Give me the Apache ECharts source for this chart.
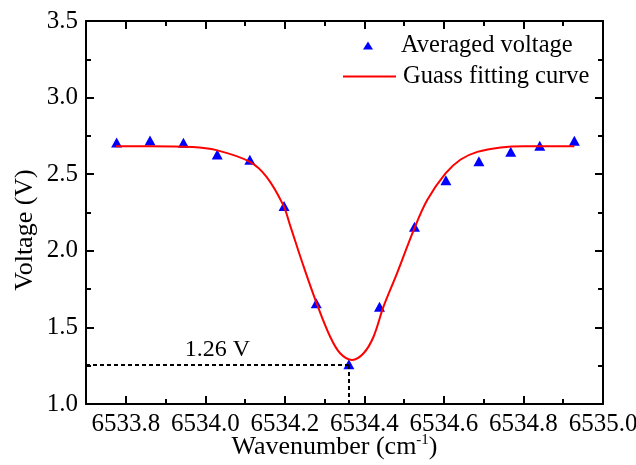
<!DOCTYPE html>
<html><head><meta charset="utf-8">
<script src="https://cdn.jsdelivr.net/npm/echarts@6/dist/echarts.min.js"></script>
<style>html,body{margin:0;padding:0;background:#fff}#c{width:636px;height:465px}</style>
</head><body><div id="c"></div>
<script>
// ---- data ----
const wavenumber = [6533.777, 6533.861, 6533.945, 6534.030, 6534.112, 6534.198, 6534.279, 6534.361, 6534.438, 6534.526, 6534.605, 6534.688, 6534.768, 6534.841, 6534.928];
const voltage    = [2.707, 2.720, 2.705, 2.629, 2.594, 2.292, 1.657, 1.259, 1.635, 2.157, 2.461, 2.585, 2.646, 2.685, 2.718];
const fitWavenumber = [6533.775, 6533.859, 6533.968, 6534.028, 6534.112, 6534.154, 6534.196, 6534.213, 6534.246, 6534.280, 6534.314, 6534.339, 6534.369, 6534.398, 6534.423, 6534.448, 6534.482, 6534.524, 6534.558, 6534.604, 6534.642, 6534.684, 6534.743, 6534.802, 6534.928];
const fitVoltage    = [2.682, 2.683, 2.678, 2.657, 2.581, 2.483, 2.298, 2.168, 1.907, 1.657, 1.439, 1.331, 1.287, 1.331, 1.439, 1.635, 1.853, 2.135, 2.331, 2.505, 2.596, 2.646, 2.675, 2.683, 2.683];
const xTickLabels  = [6533.8, 6534.0, 6534.2, 6534.4, 6534.6, 6534.8, 6535.0];
const xMinorTicks  = [6533.9, 6534.1, 6534.3, 6534.5, 6534.7, 6534.9];
const yTickLabels  = [1.0, 1.5, 2.0, 2.5, 3.0, 3.5];
const xMin = 6533.7, xMax = 6535.0;
const minLabel = '1.26 V';
const minIndex = 7;
const seriesNames = ['Averaged voltage', 'Guass fitting curve'];

// ---- chart ----
const FONT = "'Liberation Serif','Times New Roman',serif";
const chart = echarts.init(document.getElementById('c'), null, {renderer: 'canvas'});
const black = '#000';
function xAxis(pos, ticks, len, main) {
  return {
    type: 'value', position: pos, min: xMin, max: xMax,
    axisLine: {show: main, onZero: false, lineStyle: {color: black, width: 2}},
    axisTick: {show: true, inside: true, length: len, customValues: ticks, lineStyle: {color: black, width: 2}},
    axisLabel: {show: main && pos === 'bottom', customValues: ticks, formatter: v => v.toFixed(1),
      margin: 8, fontSize: 25, color: black, fontFamily: FONT},
    splitLine: {show: false}
  };
}
const xBottom = xAxis('bottom', xTickLabels, 8, true);
xBottom.name = '{t|Wavenumber (cm}{s|-1}{t|)}';
xBottom.nameLocation = 'middle';
xBottom.nameGap = 29;
xBottom.nameMoveOverlap = false;
xBottom.nameTextStyle = {padding: [0, 20, 0, 0], rich: {
  t: {fontSize: 26, fontFamily: FONT, color: black},
  s: {fontSize: 15, fontFamily: FONT, color: black, padding: [0, 0, 13, 0]}
}};
function yAxis(pos, main) {
  return {
    type: 'value', position: pos, min: yTickLabels[0], max: yTickLabels[yTickLabels.length - 1], interval: 0.5,
    axisLine: {show: true, onZero: false, lineStyle: {color: black, width: 2}},
    axisTick: {show: true, inside: true, length: 8, lineStyle: {color: black, width: 2}},
    minorTick: {show: true, splitNumber: 2, length: 5, lineStyle: {color: black, width: 2}},
    axisLabel: {show: main, formatter: v => v.toFixed(1), margin: 8, fontSize: 25, color: black, fontFamily: FONT},
    splitLine: {show: false}, minorSplitLine: {show: false}
  };
}
const yLeft = yAxis('left', true);
yLeft.name = 'Voltage (V)';
yLeft.nameLocation = 'middle';
yLeft.nameRotate = 90;
yLeft.nameGap = 48;
yLeft.nameMoveOverlap = false;
yLeft.nameTextStyle = {fontSize: 26, fontFamily: FONT, color: black, padding: [0, 35, 0, 0]};

const option = {
  backgroundColor: '#fff',
  animation: false,
  grid: {left: 86, top: 21, width: 517, height: 383, containLabel: false, outerBoundsMode: 'none'},
  xAxis: [xBottom, xAxis('bottom', xMinorTicks, 5, false), xAxis('top', xTickLabels, 8, true), xAxis('top', xMinorTicks, 5, false)],
  yAxis: [yLeft, yAxis('right', false)],
  legend: [
    {data: [seriesNames[0]], left: 363, top: 33, padding: 0, itemWidth: 10, itemHeight: 8,
     textStyle: {fontSize: 24.5, fontFamily: FONT, color: black, padding: [0, 0, 0, 23]}},
    {data: [seriesNames[1]], left: 342, top: 64, padding: 0, itemWidth: 53, itemHeight: 2,
     itemStyle: {opacity: 0, borderWidth: 0},
     textStyle: {fontSize: 24.5, fontFamily: FONT, color: black, padding: [0, 0, 0, 2]}}
  ],
  series: [
    {
      name: seriesNames[0], type: 'scatter', symbol: 'triangle', symbolSize: [11, 10],
      itemStyle: {color: '#0000ff', opacity: 1},
      data: wavenumber.map((x, i) => [x, voltage[i]]), z: 3,
      markLine: {
        silent: true, symbol: ['none', 'none'], animation: false,
        lineStyle: {color: black, type: [4, 3], width: 2},
        label: {show: false},
        emphasis: {disabled: true},
        data: [
          [{coord: [xMin, voltage[minIndex]],
            label: {show: true, position: 'middle', formatter: minLabel, fontSize: 24, fontFamily: FONT, color: black, distance: 3}},
           {coord: [wavenumber[minIndex], voltage[minIndex]]}],
          [{coord: [wavenumber[minIndex], yTickLabels[0]], label: {show: false}},
           {coord: [wavenumber[minIndex], voltage[minIndex]]}]
        ]
      }
    },
    {
      name: seriesNames[1], type: 'line', symbol: 'none', showSymbol: false, smooth: 0.35,
      lineStyle: {color: '#ff0000', width: 2}, itemStyle: {color: '#ff0000'},
      data: fitWavenumber.map((x, i) => [x, fitVoltage[i]]), z: 4
    }
  ]
};
chart.setOption(option);
</script>
</body></html>
